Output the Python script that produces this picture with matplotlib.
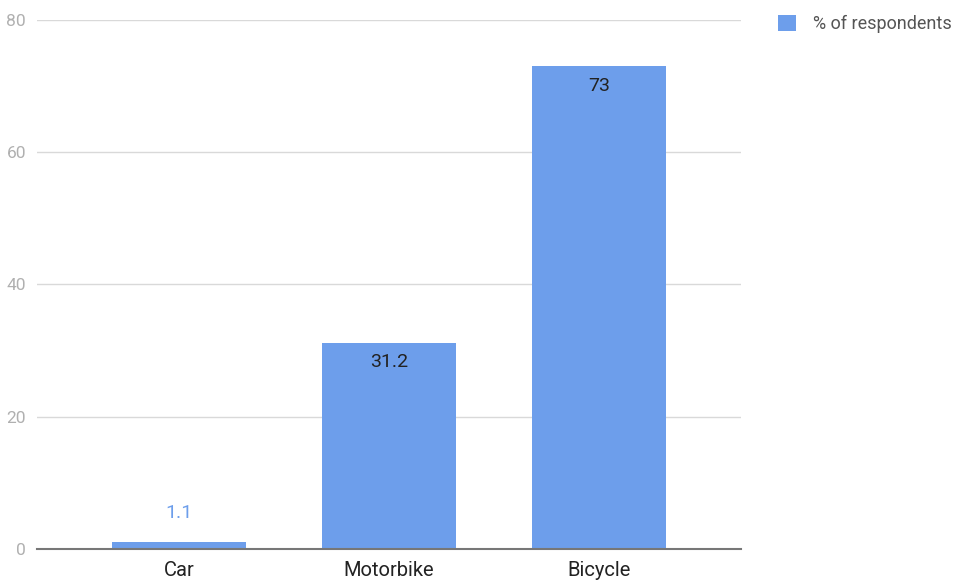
import matplotlib.pyplot as plt

plt.rcParams['font.family'] = ['Roboto', 'DejaVu Sans']

categories = ['Car', 'Motorbike', 'Bicycle']
respondents = [1.1, 31.2, 73]
labels = ['1.1', '31.2', '73']

bar_color = '#6d9eeb'

fig = plt.figure(figsize=(9.59, 5.81), dpi=100)
ax = fig.add_axes([0.0386, 0.0551, 0.7341, 0.9105])

x = range(len(categories))
bars = ax.bar(x, respondents, width=0.64, color=bar_color, zorder=3,
              label='% of respondents')

# values inside tall bars, above the short one
for b, val, txt in zip(bars, respondents, labels):
    cx = b.get_x() + b.get_width() / 2
    if val > 10:
        ax.annotate(txt, (cx, val), xytext=(0, -14), textcoords='offset points',
                    ha='center', va='center', fontsize=14, color='#222222', zorder=4)
    else:
        ax.annotate(txt, (cx, val), xytext=(0, 20.5), textcoords='offset points',
                    ha='center', va='center', fontsize=14, color=bar_color, zorder=4)

ax.set_xlim(-0.676, 2.676)
ax.set_ylim(0, 80)
ax.set_yticks([0, 20, 40, 60, 80])
ax.set_xticks(list(x))
ax.set_xticklabels(categories, fontsize=14.5, color='#222222')
ax.tick_params(axis='y', labelsize=12.5, labelcolor='#b0b0b0', length=0, pad=8)
ax.tick_params(axis='x', length=0, pad=9)

ax.grid(axis='y', color='#d9d9d9', linewidth=1, zorder=0)
for side in ['top', 'right', 'left']:
    ax.spines[side].set_visible(False)
ax.spines['bottom'].set_color('#777777')
ax.spines['bottom'].set_linewidth(1.5)
ax.spines['bottom'].set_zorder(5)

ax.legend(loc='upper left', bbox_to_anchor=(1.03, 1.04), frameon=False,
          fontsize=13, labelcolor='#555555', handlelength=1.0, handleheight=1.0,
          handletextpad=0.9)

fig.savefig('out.png', dpi=100)
